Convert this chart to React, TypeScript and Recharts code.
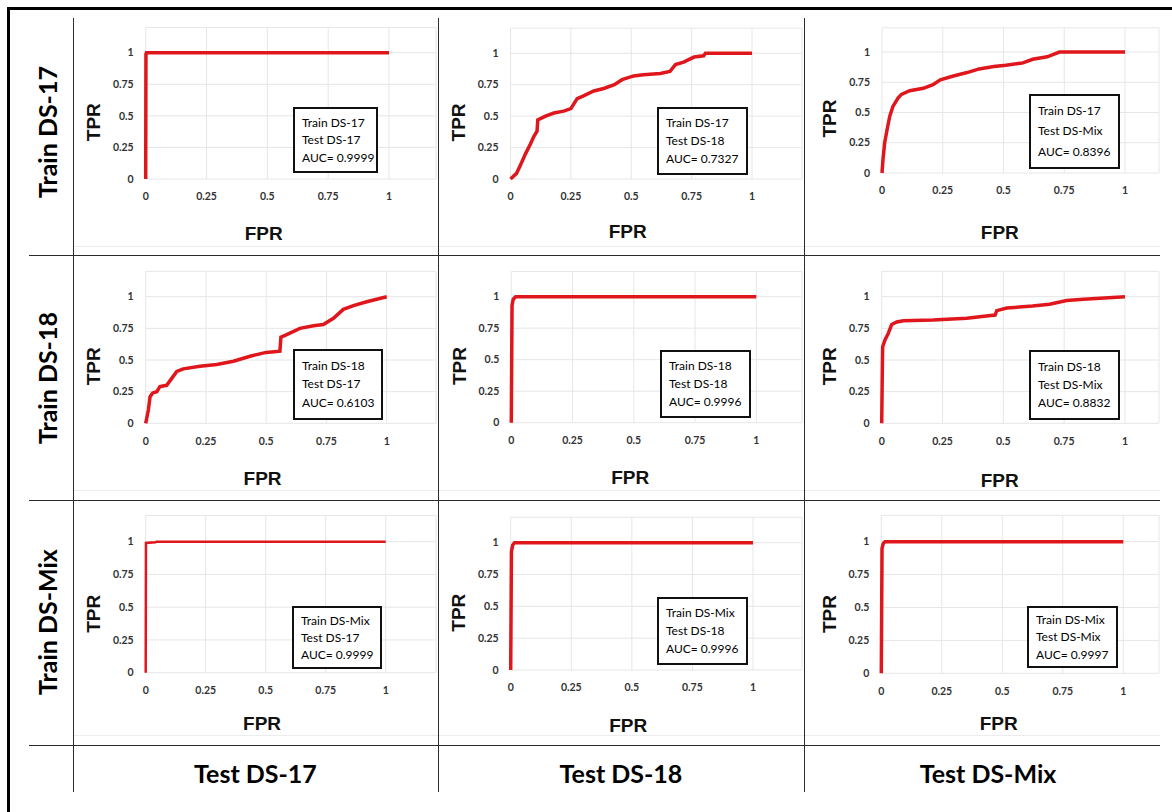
import React from 'react';
import { LineChart, Line, XAxis, YAxis, CartesianGrid, Label } from 'recharts';

// ---------- data ----------
const trainSets = ['Train DS-17', 'Train DS-18', 'Train DS-Mix'];
const testSets = ['Test DS-17', 'Test DS-18', 'Test DS-Mix'];
const aucValues = [
  ['0.9999', '0.7327', '0.8396'],
  ['0.6103', '0.9996', '0.8832'],
  ['0.9999', '0.9996', '0.9997'],
];
const axisTicks = [0, 0.25, 0.5, 0.75, 1];

// ROC points as [FPR, TPR]
const roc17on17: [number, number][] = [[0, 0], [0.001, 0.99], [0.003, 1], [1, 1]];
const roc17on18: [number, number][] = [
  [0, 0], [0.025, 0.045], [0.041, 0.11], [0.062, 0.2], [0.083, 0.28], [0.097, 0.34],
  [0.11, 0.38], [0.113, 0.47], [0.145, 0.5], [0.18, 0.525], [0.22, 0.54], [0.25, 0.56],
  [0.276, 0.64], [0.3, 0.66], [0.345, 0.7], [0.386, 0.72], [0.43, 0.75], [0.462, 0.79],
  [0.51, 0.82], [0.55, 0.83], [0.62, 0.84], [0.66, 0.855], [0.683, 0.91], [0.717, 0.93],
  [0.76, 0.97], [0.8, 0.98], [0.807, 1], [1, 1],
];
const roc17onMix: [number, number][] = [
  [0, 0], [0.004, 0.11], [0.011, 0.25], [0.021, 0.36], [0.032, 0.47], [0.045, 0.55],
  [0.066, 0.62], [0.08, 0.65], [0.114, 0.68], [0.17, 0.7], [0.21, 0.73], [0.24, 0.77],
  [0.29, 0.8], [0.35, 0.83], [0.4, 0.86], [0.46, 0.88], [0.51, 0.89], [0.58, 0.91],
  [0.62, 0.94], [0.68, 0.96], [0.73, 1], [1, 1],
];
const roc18on17: [number, number][] = [
  [0, 0], [0.011, 0.105], [0.018, 0.21], [0.029, 0.24], [0.046, 0.25], [0.059, 0.29],
  [0.087, 0.3], [0.108, 0.355], [0.129, 0.41], [0.156, 0.43], [0.225, 0.45], [0.295, 0.465],
  [0.364, 0.49], [0.433, 0.53], [0.5, 0.56], [0.557, 0.57], [0.561, 0.68], [0.585, 0.7],
  [0.64, 0.75], [0.696, 0.77], [0.737, 0.78], [0.779, 0.83], [0.82, 0.9], [0.862, 0.93],
  [0.917, 0.96], [1, 1],
];
const roc18on18: [number, number][] = [[0, 0], [0.003, 0.93], [0.008, 0.98], [0.018, 1], [1, 1]];
const roc18onMix: [number, number][] = [
  [0, 0], [0.003, 0.5], [0.004, 0.605], [0.014, 0.66], [0.027, 0.71], [0.041, 0.78],
  [0.062, 0.8], [0.089, 0.81], [0.21, 0.816], [0.35, 0.83], [0.43, 0.847], [0.466, 0.855],
  [0.473, 0.89], [0.514, 0.91], [0.62, 0.926], [0.69, 0.94], [0.76, 0.97], [0.83, 0.98],
  [1, 1],
];
const rocMixon17: [number, number][] = [[0, 0], [0.001, 0.99], [0.04, 0.995], [0.045, 1], [1, 1]];
const rocMixon18: [number, number][] = [[0, 0], [0.003, 0.93], [0.008, 0.98], [0.016, 1], [1, 1]];
const rocMixonMix: [number, number][] = [[0, 0], [0.003, 0.95], [0.008, 0.985], [0.015, 1], [1, 1]];

const rocGrid = [
  [roc17on17, roc17on18, roc17onMix],
  [roc18on17, roc18on18, roc18onMix],
  [rocMixon17, rocMixon18, rocMixonMix],
];

// ---------- layout ----------
const cols = [
  { left: 74, right: 438, gridRight: 436 },
  { left: 439, right: 804, gridRight: 802 },
  { left: 805, right: 1160, gridRight: 1159 },
];
const rows = [
  { top: 19, bottom: 255, chartBottom: 246 },
  { top: 256, bottom: 500, chartBottom: 490 },
  { top: 501, bottom: 745, chartBottom: 735 },
];

type Geo = { x0: number; x1: number; y0: number; y1: number; fprY: number; box: [number, number, number, number]; lh: number; sw: number };
const geo: Geo[][] = [
  [
    { x0: 145.7, x1: 389, y0: 179, y1: 52.7, fprY: 233, box: [293, 107, 85, 66], lh: 17.5, sw: 3.5 },
    { x0: 510.5, x1: 752, y0: 179, y1: 53.3, fprY: 231, box: [657, 107, 91, 68], lh: 18, sw: 3.5 },
    { x0: 882, x1: 1125, y0: 173, y1: 52, fprY: 232, box: [1029, 94, 91, 75], lh: 20.5, sw: 3.5 },
  ],
  [
    { x0: 145.7, x1: 386.7, y0: 423.3, y1: 296.7, fprY: 478, box: [293, 349, 90, 71], lh: 18.3, sw: 3.5 },
    { x0: 511.3, x1: 756.3, y0: 422.7, y1: 296.7, fprY: 477, box: [660, 350, 91, 68], lh: 18, sw: 3.5 },
    { x0: 881.7, x1: 1125, y0: 423.3, y1: 296.7, fprY: 480, box: [1029, 350, 91, 70], lh: 18.3, sw: 3.5 },
  ],
  [
    { x0: 145.7, x1: 385.7, y0: 672.7, y1: 541.7, fprY: 723, box: [292, 606, 90, 63], lh: 17, sw: 2.5 },
    { x0: 510.7, x1: 753, y0: 670, y1: 542.7, fprY: 725, box: [657, 597, 91, 68], lh: 17.7, sw: 3.5 },
    { x0: 881.3, x1: 1123.3, y0: 673.3, y1: 541.7, fprY: 723, box: [1027, 606, 91, 62], lh: 17.5, sw: 3.5 },
  ],
];

const CAL = 'Lato, "Open Sans", sans-serif';
const ARIAL = '"Liberation Sans", Arial, sans-serif';
const RED = '#e0161d';
const LINE = '#2b2b2b';

const YW = 40;
const XH = 30;

function Panel({ r, c }: { r: number; c: number }) {
  const g = geo[r][c];
  const col = cols[c];
  const row = rows[r];
  const cellW = col.right - col.left;
  const cellH = row.bottom - row.top;
  const ux = g.x1 - g.x0;
  const uy = g.y0 - g.y1;
  const xMax = (col.gridRight - g.x0) / ux;
  const plotLeft = g.x0 - col.left;
  const plotTop = g.y1 - 0.2 * uy - row.top;
  const plotBottom = g.y0 - row.top;
  const margin = {
    left: plotLeft - YW,
    top: plotTop,
    right: col.right - col.gridRight,
    bottom: cellH - plotBottom - XH,
  };
  const data = rocGrid[r][c].map(([fpr, tpr]) => ({ fpr, tpr }));
  const tprX = g.x0 - 52 - col.left;
  const tprY = g.y0 - 0.45 * uy - row.top;
  const fprX = g.x0 + 0.485 * ux - col.left;
  const fprY = g.fprY - row.top;
  const tickStyle = { fontFamily: CAL, fontWeight: 700, fontSize: 10.5, fill: '#333' };
  return (
    <div style={{ position: 'absolute', left: col.left, top: row.top, width: cellW, height: cellH }}>
      <LineChart width={cellW} height={cellH} data={data} margin={margin}>
        <CartesianGrid stroke="#e6e6e6" strokeWidth={1} />
        <XAxis
          dataKey="fpr"
          type="number"
          domain={[0, xMax]}
          ticks={axisTicks}
          axisLine={false}
          tickLine={false}
          tickMargin={8}
          height={XH}
          tick={tickStyle}
          interval={0}
        >
          <Label
            content={() => (
              <text x={fprX} y={fprY} textAnchor="middle" dominantBaseline="central" fontFamily={ARIAL} fontWeight={700} fontSize={19} fill="#111">
                FPR
              </text>
            )}
          />
        </XAxis>
        <YAxis
          type="number"
          domain={[0, 1.2]}
          ticks={axisTicks}
          axisLine={false}
          tickLine={false}
          tickMargin={6}
          width={YW}
          tick={tickStyle}
          interval={0}
        >
          <Label
            content={() => (
              <text x={tprX} y={tprY} textAnchor="middle" dominantBaseline="central" transform={`rotate(-90 ${tprX} ${tprY})`} fontFamily={ARIAL} fontWeight={700} fontSize={19} fill="#111">
                TPR
              </text>
            )}
          />
        </YAxis>
        <Line
          type="linear"
          dataKey="tpr"
          stroke={RED}
          strokeWidth={g.sw}
          dot={false}
          activeDot={false}
          isAnimationActive={false}
        />
      </LineChart>
    </div>
  );
}

function InfoBox({ r, c }: { r: number; c: number }) {
  const g = geo[r][c];
  const [x, y, w, h] = g.box;
  return (
    <div
      style={{
        position: 'absolute', left: x, top: y, width: w, height: h, boxSizing: 'border-box',
        border: '2px solid #111', background: '#fff', paddingLeft: 7,
        display: 'flex', flexDirection: 'column', justifyContent: 'center',
        fontFamily: CAL, fontSize: 12, color: '#000', lineHeight: `${g.lh}px`, whiteSpace: 'nowrap',
      }}
    >
      <div>{trainSets[r]}</div>
      <div>{testSets[c]}</div>
      <div>AUC= {aucValues[r][c]}</div>
    </div>
  );
}

const hLine = (top: number, left: number, right: number, color = LINE, h = 1.5) => (
  <div key={`h${top}-${left}`} style={{ position: 'absolute', left, top, width: right - left, height: h, background: color }} />
);
const vLine = (left: number, top: number, bottom: number, color = LINE, w = 1.5) => (
  <div key={`v${left}-${top}`} style={{ position: 'absolute', left, top, width: w, height: bottom - top, background: color }} />
);

export default function App() {
  const rowCenters = [132, 378, 622];
  const colCenters = [255.5, 621, 988];
  return (
    <div style={{ position: 'absolute', left: 0, top: 0, width: 1172, height: 812, background: '#fff', overflow: 'hidden' }}>
      {/* outer border */}
      <div style={{ position: 'absolute', left: 7, top: 7, width: 1172 - 7, height: 3, background: '#000' }} />
      <div style={{ position: 'absolute', left: 7, top: 7, width: 3, height: 812 - 7, background: '#000' }} />

      {/* faint chart borders */}
      {rows.map((row) => cols.map((col) => hLine(row.chartBottom, col.left, col.right, '#ececec', 1)))}

      {/* charts */}
      {[0, 1, 2].map((r) => [0, 1, 2].map((c) => <Panel key={`p${r}${c}`} r={r} c={c} />))}
      {[0, 1, 2].map((r) => [0, 1, 2].map((c) => <InfoBox key={`b${r}${c}`} r={r} c={c} />))}

      {/* table lines */}
      {hLine(254.5, 29, 1160)}
      {hLine(499.5, 29, 1160)}
      {hLine(744.5, 29, 1160)}
      {vLine(72.5, 18, 792)}
      {vLine(437.5, 18, 792)}
      {vLine(803.5, 18, 792)}

      {/* row labels */}
      {trainSets.map((t, i) => (
        <div
          key={t}
          style={{
            position: 'absolute', left: 47, top: rowCenters[i], transform: 'translate(-50%, -50%) rotate(-90deg)',
            fontFamily: CAL, fontWeight: 700, fontSize: 25, color: '#000', whiteSpace: 'nowrap', lineHeight: '30px',
          }}
        >
          {t}
        </div>
      ))}
      {/* column labels */}
      {testSets.map((t, i) => (
        <div
          key={t}
          style={{
            position: 'absolute', left: colCenters[i], top: 772.5, transform: 'translate(-50%, -50%)',
            fontFamily: CAL, fontWeight: 700, fontSize: 25, color: '#000', whiteSpace: 'nowrap', lineHeight: '30px',
          }}
        >
          {t}
        </div>
      ))}
    </div>
  );
}
